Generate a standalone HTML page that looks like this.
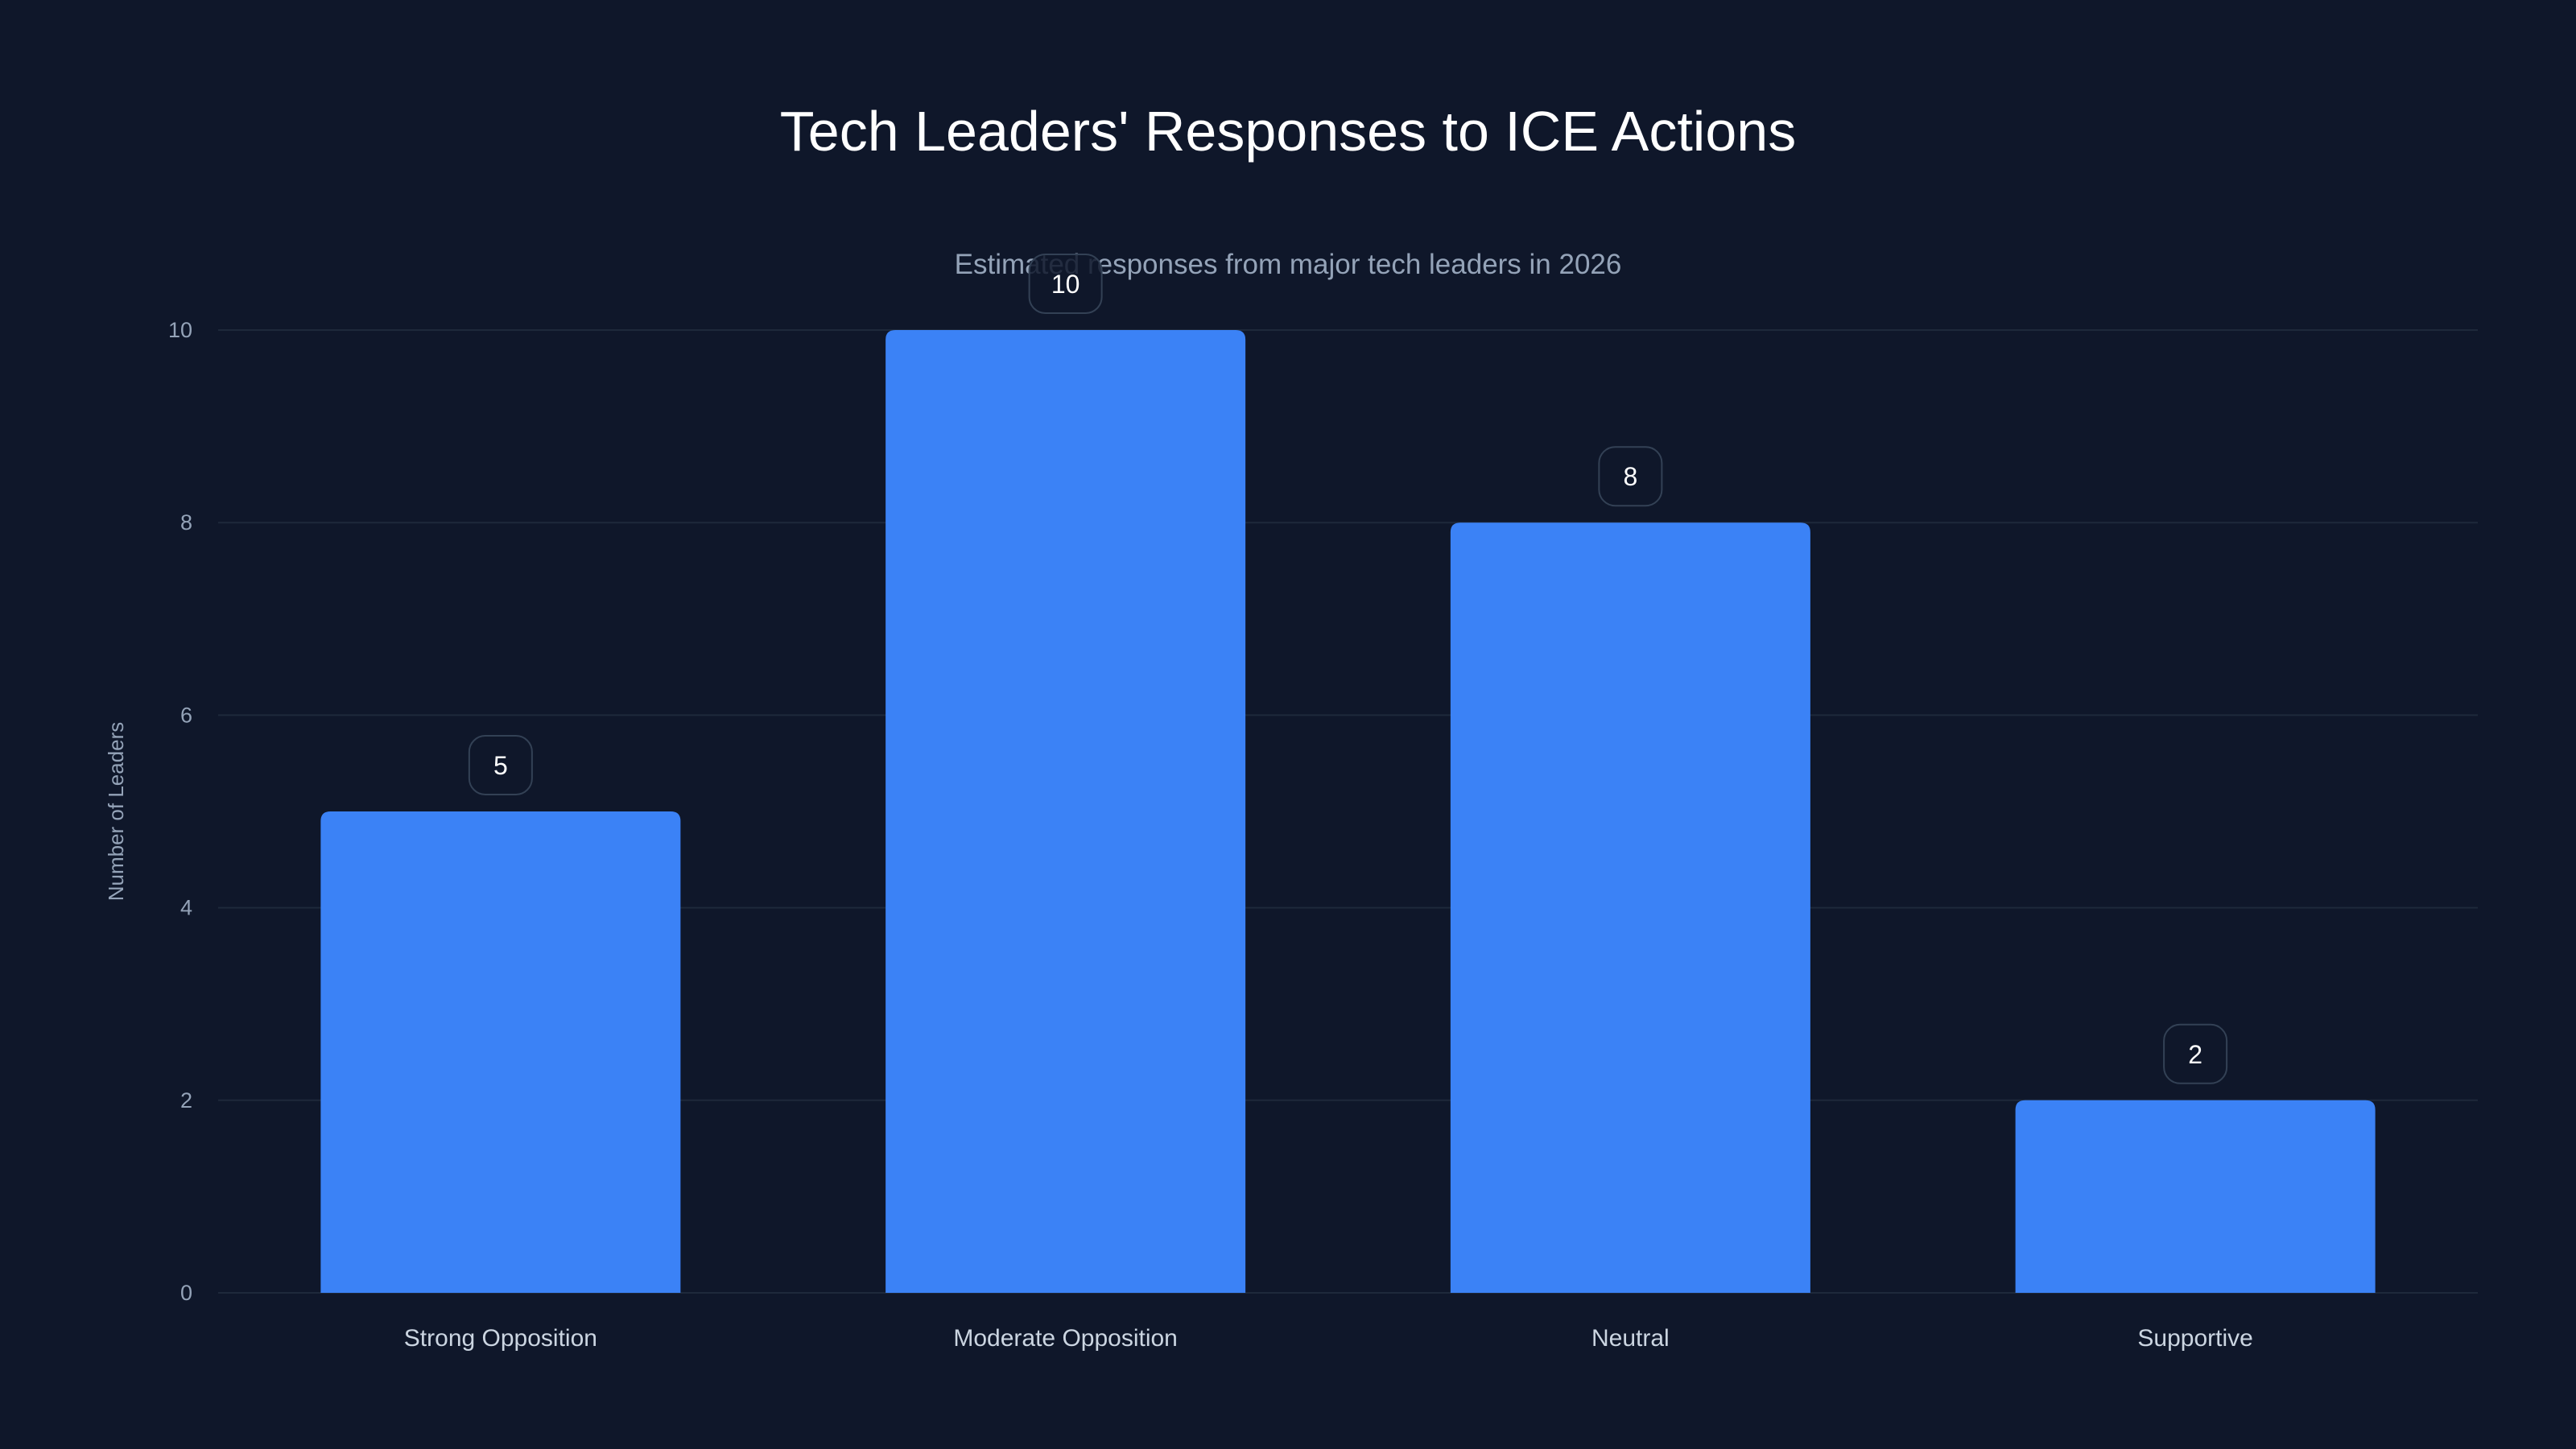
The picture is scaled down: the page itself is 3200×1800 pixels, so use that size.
<!DOCTYPE html>
<html><head><meta charset="utf-8"><style>
html,body{margin:0;padding:0;background:#0f172a;}
svg{display:block;font-family:"Liberation Sans",sans-serif;}
</style></head><body>
<svg id="chart" width="3200" height="1800" viewBox="0 0 3200 1800">
<rect width="3200" height="1800" fill="#0f172a"/>
<text x="1600" y="187" text-anchor="middle" fill="#ffffff" font-size="70">Tech Leaders' Responses to ICE Actions</text>
<text x="1600" y="340" text-anchor="middle" fill="#94a3b8" font-size="35">Estimated responses from major tech leaders in 2026</text>
<text transform="translate(153,1008) rotate(-90)" text-anchor="middle" fill="#94a3b8" font-size="26">Number of Leaders</text>
<g id="grid"></g><g id="bars"></g><g id="labels"></g>
</svg>
<script>
const categories = ["Strong Opposition","Moderate Opposition","Neutral","Supportive"];
const values = [5,10,8,2];
const yTicks = [0,2,4,6,8,10];
const yMax = 10;
const NS="http://www.w3.org/2000/svg";
const L=271,R=3078,T=410,B=1606;
function y(v){return B-(v/yMax)*(B-T);}
const band=(R-L)/categories.length;
function xc(i){return L+band*(i+0.5);}
const bw=447;
function mk(tag,attrs,parent){const e=document.createElementNS(NS,tag);for(const k in attrs)e.setAttribute(k,attrs[k]);parent.appendChild(e);return e;}
const grid=document.getElementById('grid'),bars=document.getElementById('bars'),labels=document.getElementById('labels');
yTicks.forEach(t=>{
  const ln=mk('line',{x1:L,x2:R,y1:y(t),y2:y(t),stroke:'#1e293b','stroke-width':2},grid);
  
  
  const tx=mk('text',{x:239,y:y(t)+9,'text-anchor':'end',fill:'#94a3b8','font-size':27},grid);
  tx.textContent=t;
  
  
});
categories.forEach((c,i)=>{
  const v=values[i],top=y(v),x0=xc(i)-bw/2,r=12;
  const p=mk('path',{d:`M${x0},${B}V${top+r}Q${x0},${top} ${x0+r},${top}H${x0+bw-r}Q${x0+bw},${top} ${x0+bw},${top+r}V${B}Z`,fill:'#3b82f6'},bars);
  
  
  const txt=String(v),w=txt.length>1?90:78;
  const bx=mk('rect',{x:xc(i)-w/2,y:top-94,width:w,height:73,rx:20,fill:'#0f172a','fill-opacity':0.85,stroke:'#334155','stroke-width':2},labels);
  
  
  const vt=mk('text',{x:xc(i),y:top-46,'text-anchor':'middle',fill:'#ffffff','font-size':32},labels);
  vt.textContent=txt;
  
  
  const xl=mk('text',{x:xc(i),y:1672,'text-anchor':'middle',fill:'#cbd5e1','font-size':30},labels);
  xl.textContent=c;
  
  
});
</script>
</body></html>
